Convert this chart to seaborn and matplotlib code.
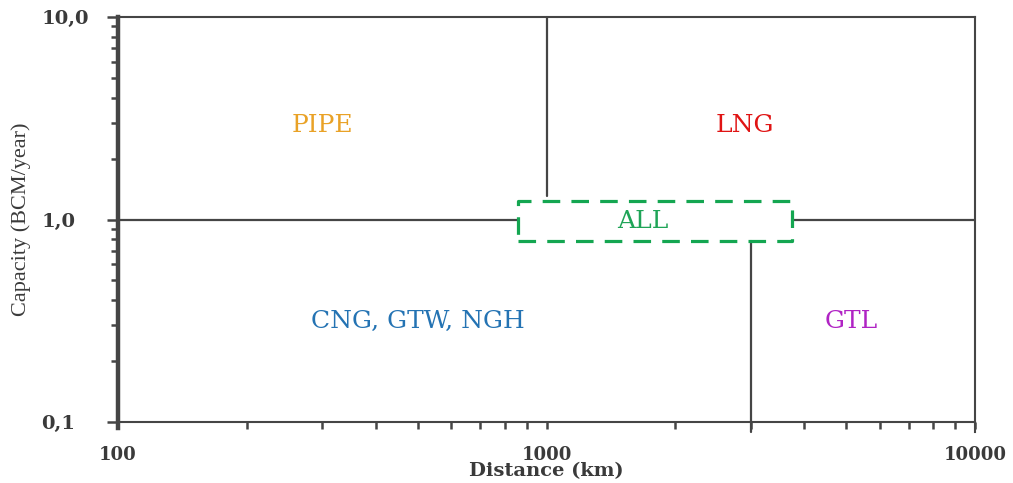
import numpy as np
import pandas as pd
import matplotlib
matplotlib.use("Agg")
import matplotlib.pyplot as plt
import seaborn as sns
from matplotlib.ticker import FixedLocator, FixedFormatter, LogLocator, NullFormatter

# Technology regions on the distance / capacity map
regions = ["PIPE", "LNG", "CNG, GTW, NGH", "GTL", "ALL"]
region_distance = [300, 2900, 500, 5150, 1680]     # km
region_capacity = [2.9, 2.9, 0.313, 0.313, 0.98]   # BCM/year
region_colors = ["#E9A227", "#E01414", "#2473B3", "#B023C4", "#1FA457"]

# Boundary segments between regions
seg_id = [0, 0, 1, 1, 2, 2, 3, 3]
seg_distance = [1000, 1000, 3000, 3000, 100, 857, 3740, 10000]
seg_capacity = [1.30, 10.0, 0.089, 0.78, 1.0, 1.0, 1.0, 1.0]

# "ALL" overlap zone (dashed outline)
all_distance = [857, 3740, 3740, 857, 857]
all_capacity = [0.78, 0.78, 1.24, 1.24, 0.78]

# Axis ticks
x_ticks = [100, 1000, 10000]
x_tick_labels = ["100", "1000", "10000"]
y_ticks = [0.1, 1.0, 10.0]
y_tick_labels = ["0,1", "1,0", "10,0"]

sns.set_theme(style="white")
plt.rcParams["font.family"] = ["DejaVu Serif"]

line_color = "#454545"
text_color = "#3a3a3a"

fig = plt.figure(figsize=(10.13, 4.83), dpi=100)
ax = fig.add_axes([118 / 1013, 1 - 422 / 483, (975 - 118) / 1013, (422 - 17) / 483])
ax.set_xscale("log")
ax.set_yscale("log")
ax.set_xlim(100, 10000)
ax.set_ylim(0.1, 10)

segments = pd.DataFrame({"seg": seg_id, "distance": seg_distance, "capacity": seg_capacity})
sns.lineplot(data=segments, x="distance", y="capacity", units="seg", estimator=None,
             sort=False, color=line_color, linewidth=1.6, ax=ax, legend=False)
for ln in ax.lines:
    ln.set_clip_on(False)

ax.plot(all_distance, all_capacity, color="#14A651", linewidth=2.3,
        linestyle=(0, (5.5, 3.5)), solid_capstyle="butt")

for name, xd, yc, col in zip(regions, region_distance, region_capacity, region_colors):
    ax.text(xd, yc, name, color=col, ha="center", va="center", fontsize=18,
            family="DejaVu Serif")

# Spines
for side in ["top", "right", "bottom"]:
    ax.spines[side].set_color(line_color)
    ax.spines[side].set_linewidth(1.5)
ax.spines["left"].set_color(line_color)
ax.spines["left"].set_linewidth(3.2)
ax.spines["left"].set_bounds(0.093, 10)
ax.spines["right"].set_bounds(0.089, 10)

# Ticks
ax.xaxis.set_major_locator(FixedLocator(x_ticks))
ax.xaxis.set_major_formatter(FixedFormatter(x_tick_labels))
ax.xaxis.set_minor_locator(LogLocator(base=10, subs=np.arange(2, 10)))
ax.xaxis.set_minor_formatter(NullFormatter())
ax.yaxis.set_major_locator(FixedLocator(y_ticks))
ax.yaxis.set_major_formatter(FixedFormatter(y_tick_labels))
ax.yaxis.set_minor_locator(LogLocator(base=10, subs=np.arange(2, 10)))
ax.yaxis.set_minor_formatter(NullFormatter())

ax.tick_params(axis="x", which="both", direction="out", bottom=True, length=5,
               width=1.8, color=line_color)
ax.tick_params(axis="x", which="major", pad=12, labelsize=13, labelcolor=text_color)
ax.tick_params(axis="y", which="major", direction="out", left=True, length=8,
               width=1.8, color=line_color, pad=47, labelsize=14, labelcolor=text_color)
ax.tick_params(axis="y", which="minor", direction="out", left=True, length=5,
               width=1.8, color=line_color)
for lab in ax.get_xticklabels() + ax.get_yticklabels():
    lab.set_fontweight("bold")
for lab in ax.get_yticklabels():
    lab.set_horizontalalignment("left")

ax.set_xlabel("Distance (km)", fontsize=14, fontweight="bold", color=text_color)
ax.xaxis.set_label_coords(0.5, -0.122)
ax.xaxis.label.set_verticalalignment("center")
ax.set_ylabel("Capacity (BCM/year)", fontsize=16, color=text_color,
              family="Liberation Serif", labelpad=0)
ax.yaxis.set_label_coords(-0.102, 0.5)

ax.grid(False)
fig.savefig("out.png", dpi=100, facecolor="white")
